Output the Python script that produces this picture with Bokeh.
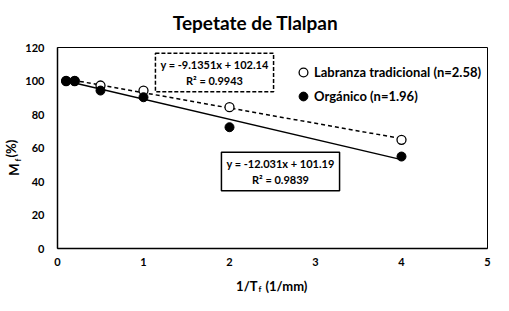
import numpy as np
from bokeh.plotting import figure
from bokeh.models import Range1d, Label, Legend, LegendItem, FixedTicker
from bokeh.embed import file_html
from bokeh.resources import INLINE

# ---- data ----
title_text = "Tepetate de Tlalpan"
x_vals = [0.1, 0.2, 0.5, 1, 2, 4]
labranza = [100, 100, 97.3, 94.3, 84.4, 64.9]
organico = [100, 100, 94.3, 90.3, 72.4, 54.9]
lab_name = "Labranza tradicional (n=2.58)"
org_name = "Orgánico (n=1.96)"
lab_slope, lab_intercept = -9.1351, 102.14
org_slope, org_intercept = -12.031, 101.19
lab_eq = "y = -9.1351x + 102.14\nR² = 0.9943"
org_eq = "y = -12.031x + 101.19\nR² = 0.9839"
x_ticks = [0, 1, 2, 3, 4, 5]
y_ticks = [0, 20, 40, 60, 80, 100, 120]
x_title = ("1/T", "f", "(1/mm)")
y_title = ("M", "f", "(%)")

FONT = "Lato"
ROT = 1.5707963267948966

p = figure(width=509, height=311, output_backend="svg", toolbar_location=None,
           x_range=Range1d(0, 5), y_range=Range1d(0, 120),
           min_border_left=57, min_border_right=22, min_border_top=47, min_border_bottom=63)

p.grid.visible = False
p.outline_line_color = "black"
p.outline_line_width = 1
p.background_fill_color = "white"
p.border_fill_color = "white"

for ax in (p.xaxis[0], p.yaxis[0]):
    ax.major_tick_in = 0
    ax.major_tick_out = 0
    ax.minor_tick_in = 0
    ax.minor_tick_out = 0
    ax.axis_line_color = "black"
    ax.axis_line_width = 1.5
    ax.major_label_text_font = FONT
    ax.major_label_text_font_size = "11px"
    ax.major_label_text_font_style = "bold"
    ax.major_label_text_color = "black"
p.xaxis[0].ticker = FixedTicker(ticks=x_ticks)
p.yaxis[0].ticker = FixedTicker(ticks=y_ticks)
p.xaxis[0].major_label_standoff = 9
p.yaxis[0].major_label_standoff = 13

# trend lines
xl = np.array([min(x_vals), max(x_vals)])
p.line(xl, lab_slope * xl + lab_intercept, line_color="black", line_width=1.5, line_dash="4 3")
p.line(xl, org_slope * xl + org_intercept, line_color="black", line_width=1.5)

r_lab = p.scatter(x_vals, labranza, size=9, marker="circle", fill_color="white",
                  line_color="black", line_width=1.3)
r_org = p.scatter(x_vals, organico, size=9, marker="circle", fill_color="black",
                  line_color="black", line_width=1)

legend = Legend(items=[LegendItem(label=lab_name, renderers=[r_lab]),
                       LegendItem(label=org_name, renderers=[r_org])],
                location=(235, 141), orientation="vertical",
                glyph_width=22, glyph_height=22, label_height=20, spacing=2,
                label_standoff=-5, padding=0, margin=0,
                border_line_color=None, background_fill_alpha=0,
                label_text_font=FONT, label_text_font_size="13px",
                label_text_font_style="bold",
                label_text_color="black")
p.add_layout(legend)

box_common = dict(x_units="screen", y_units="screen", anchor="center", text_align="center",
                  text_font=FONT, text_font_size="11px", text_font_style="bold",
                  text_color="black",
                  background_fill_color="white", border_line_color="black",
                  border_line_width=1.5, padding=5)
p.add_layout(Label(x=157, y=176, text=lab_eq, border_line_dash="4 2", **box_common))
p.add_layout(Label(x=223, y=77, text=org_eq, **box_common))

# titles, placed in the side panels (annotations there are not clipped)
lab_common = dict(x_units="screen", y_units="screen", text_font=FONT, text_color="black",
                  text_font_style="bold", text_baseline="middle")
# above panel: chart title, then the y subscript
p.add_layout(Label(x=198, y=25, text=title_text, text_align="center",
                   text_font_size="19px", **lab_common), "above")
p.add_layout(Label(x=-40, y=-137, text=y_title[1], angle=ROT, text_align="left",
                   text_font_size="8px", **lab_common), "above")
# below panel: stacked under the x axis
p.add_layout(Label(x=200, y=-1, text=x_title[0], text_align="right",
                   text_font_size="13px", **lab_common), "below")
p.add_layout(Label(x=201, y=6, text=x_title[1], text_align="left",
                   text_font_size="8px", **lab_common), "below")
p.add_layout(Label(x=208, y=25, text=x_title[2], text_align="left",
                   text_font_size="13px", **lab_common), "below")
# left panel: "(%)"
p.add_layout(Label(x=4, y=91, text=y_title[2], angle=ROT, text_align="left",
                   text_font_size="13px", **lab_common), "left")
# right panel: "M"
p.add_layout(Label(x=-474, y=85, text=y_title[0], angle=ROT, text_align="right",
                   text_font_size="13px", **lab_common), "right")

open("out.html", "w").write(file_html(p, INLINE))
